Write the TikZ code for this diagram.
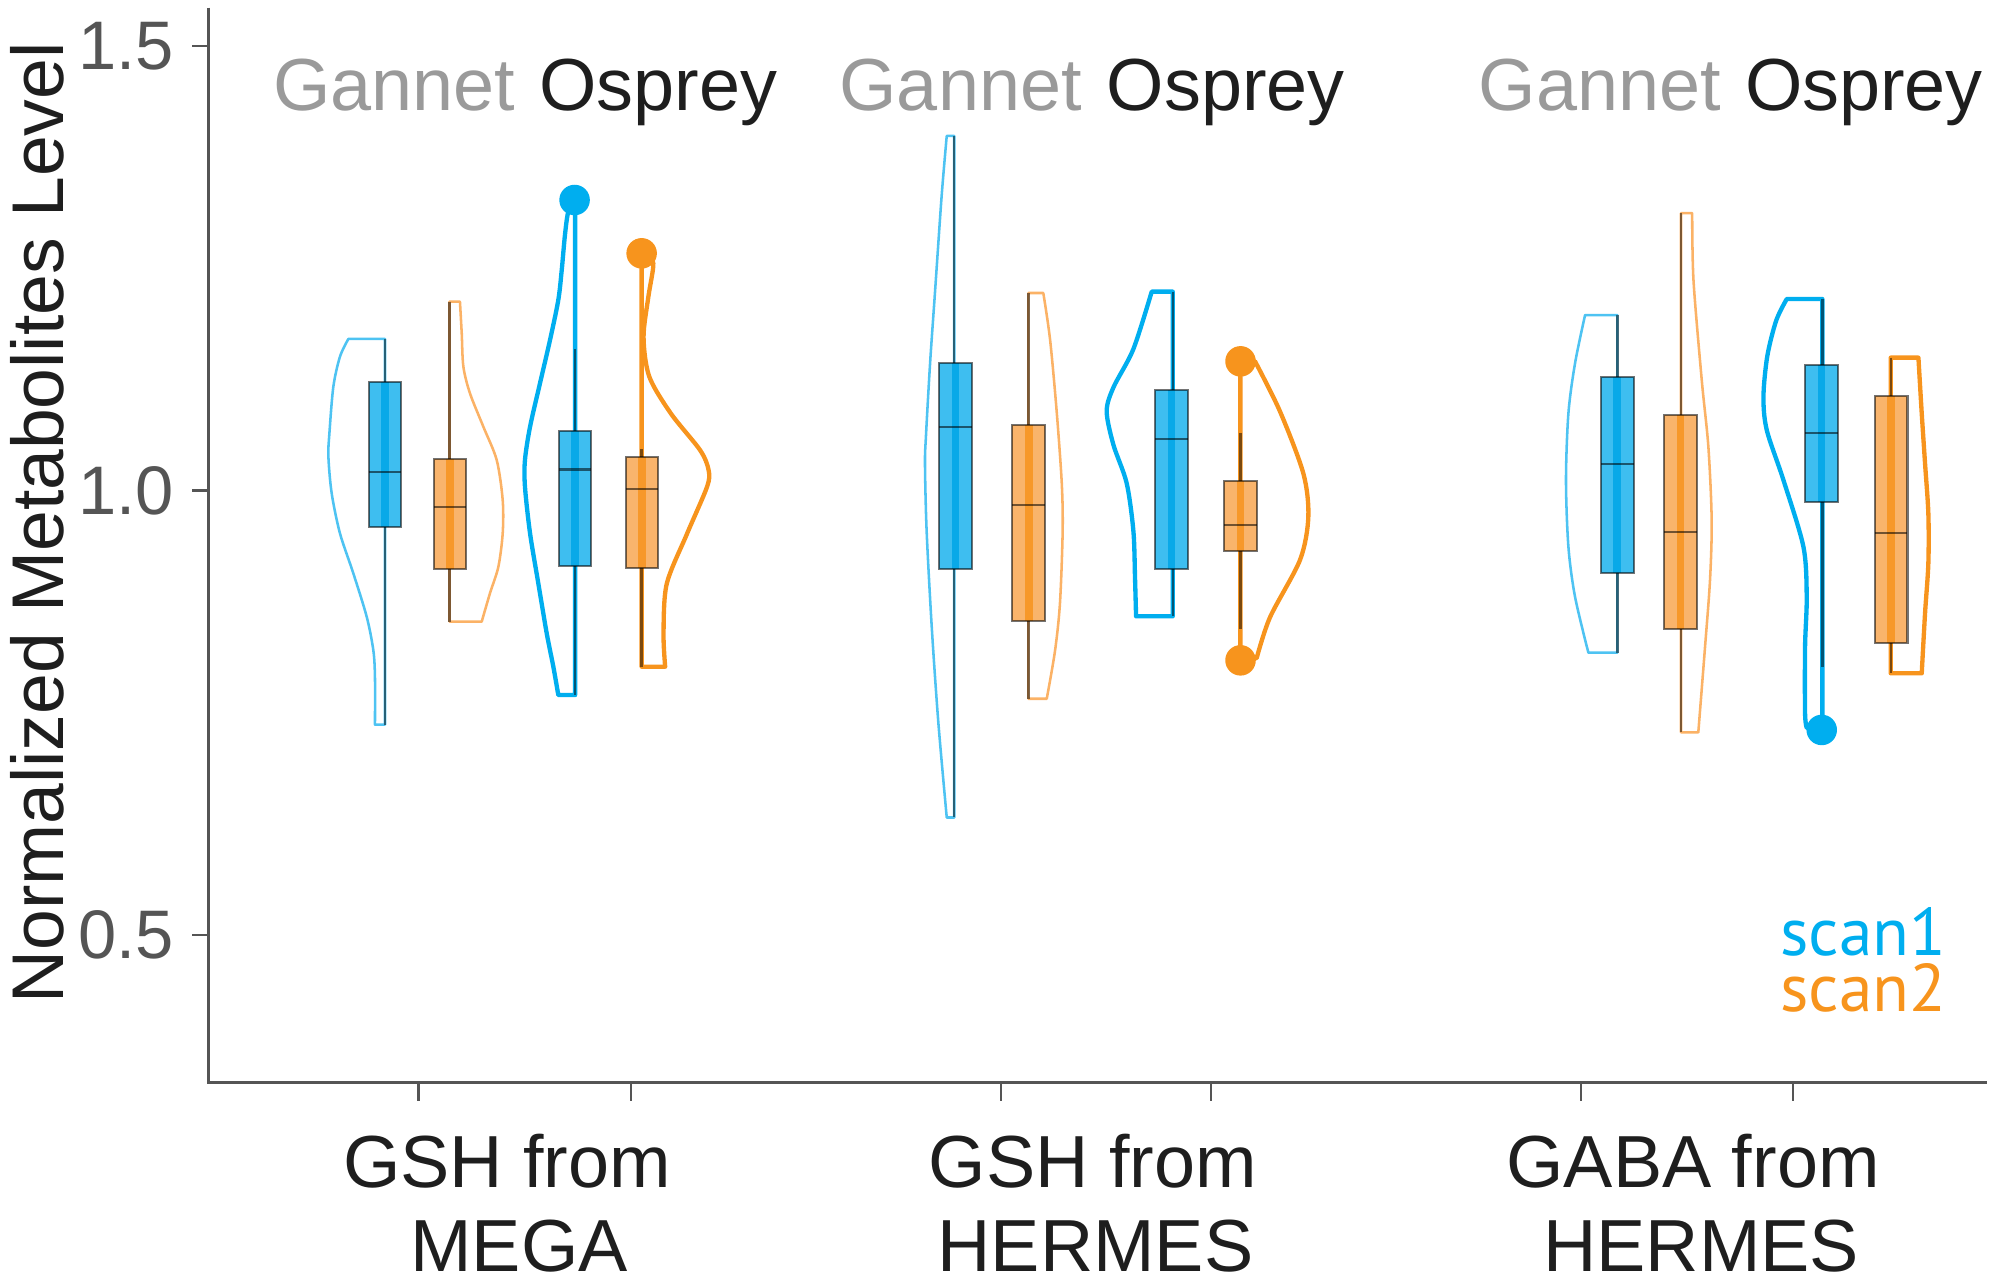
\documentclass[tikz,border=0pt]{standalone}
\usepackage{fontspec}
\setmainfont{Liberation Sans}
\newfontfamily\scanfont{PT Sans}
\definecolor{bG}{HTML}{4EC3F2}
\definecolor{oG}{HTML}{FBB266}
\definecolor{bO}{HTML}{00AEEF}
\definecolor{oO}{HTML}{F7941D}
\definecolor{bfill}{HTML}{3EBEF0}
\definecolor{bstripe}{HTML}{09A9E8}
\definecolor{ofill}{HTML}{F9B46C}
\definecolor{ostripe}{HTML}{F7982A}
\definecolor{axisgray}{HTML}{555555}
\definecolor{gannetgray}{HTML}{9A9A9A}
\definecolor{txtdark}{HTML}{1E1E1E}
\newcommand{\bxplot}[6]{%
  \fill[#5] ({#1-12.8},#2) rectangle ({#1+12.8},#3);
  \fill[#6] ({#1-3},#2) rectangle ({#1+3},#3);
  \draw[boxedge] ({#1-12.8},#2) rectangle ({#1+12.8},#3);
  \draw[boxedge] ({#1-12.8},#4) -- ({#1+12.8},#4);
}
\newcommand{\whisk}[3]{\draw[whiskline] (#1,#2) -- (#1,#3);}
\begin{document}
\begin{tikzpicture}[x=0.5pt,y=-0.5pt,
  vG/.style={line width=1pt,line join=round},
  vO/.style={line width=1.7pt,line join=round},
  whiskline/.style={draw=black,draw opacity=0.5,line width=0.9pt},
  boxedge/.style={draw=black,draw opacity=0.55,line width=0.8pt},
  axisline/.style={draw=axisgray,line width=1.3pt},
  tickline/.style={draw=axisgray,line width=0.9pt},
  ticklab/.style={text=axisgray,font=\fontsize{27pt}{32pt}\selectfont,inner sep=0pt,anchor=east},
  catlab/.style={text=txtdark,font=\fontsize{29pt}{34pt}\selectfont,inner sep=0pt,anchor=base},
  toollab/.style={font=\fontsize{29pt}{34pt}\selectfont,inner sep=0pt,anchor=base},
  scanlab/.style={font=\scanfont\fontsize{26.5pt}{22pt}\selectfont,inner sep=0pt,align=left},
  dot/.style={fill=#1}
]
\useasboundingbox (0,0) rectangle (1568,1012);

% axes
\draw[axisline] (164,6) -- (164,851) -- (1562,851);
\foreach \yy in {36,385.5,735} \draw[tickline] (151,\yy) -- (164,\yy);
\foreach \xx in {329,496,786.5,952,1242.5,1409} \draw[tickline] (\xx,851) -- (\xx,865);
\node[ticklab] (t15) at (137,36) {1.5};
\node[ticklab] (t10) at (137,385.5) {1.0};
\node[ticklab] (t05) at (137,735) {0.5};
\node[rotate=90,anchor=base,inner sep=0pt,text=txtdark,font=\fontsize{28.8pt}{34pt}\selectfont] (ylab) at (50,411) {Normalized Metabolites Level};

% category labels
\node[catlab] (c1a) at (398.5,933) {GSH from};
\node[catlab] (c1b) at (408,999) {MEGA};
\node[catlab] (c2a) at (859,933) {GSH from};
\node[catlab] (c2b) at (861,999) {HERMES};
\node[catlab] (c3a) at (1330.6,933) {GABA from};
\node[catlab] (c3b) at (1337,999) {HERMES};

% tool labels
\node[toollab,text=gannetgray] (g1) at (310,87) {Gannet};
\node[toollab,text=txtdark] (o1) at (517.5,87) {Osprey};
\node[toollab,text=gannetgray] (g2) at (755,87) {Gannet};
\node[toollab,text=txtdark] (o2) at (963.5,87) {Osprey};
\node[toollab,text=gannetgray] (g3) at (1257.5,87) {Gannet};
\node[toollab,text=txtdark] (o3) at (1465,87) {Osprey};

% legend
\node[scanlab,anchor=base west] (leg) at (1399,795) {\textcolor{bO}{scan1}\\\textcolor{oO}{scan2}};

% ---------- violins ----------
% group 1
\draw[vG,bG] (302.6,266.4) -- plot[smooth] coordinates {(273.8,266.4) (267.2,280.3) (262,303.9) (258.9,340.6) (258.1,358.9) (260.7,387.8) (267.2,419.2) (277.7,450.6) (288.2,484.7) (293.4,510.9) (294.7,531.9) (294.7,569.5)} -- (302.6,569.5) -- cycle;
\draw[vG,oG] (353.3,237.1) -- plot[smooth] coordinates {(361.5,237.1) (362.9,262) (364.2,288.2) (369.4,309.2) (379.9,335.4) (390.4,361.6) (395.1,393) (395.1,419.2) (391.7,445.4) (385.1,466.3) (378.6,488.6)} -- (353.3,488.6) -- cycle;
\draw[vO,bO] (452,160) -- (452,546.3) -- plot[smooth] coordinates {(438.8,546.3) (434.9,524) (429.7,497.8) (423.1,458.5) (416.6,419.2) (412.6,382.5) (412.6,361.5) (416.6,335.4) (424.4,301.3) (432.3,267.2) (438.8,235.8) (441.5,212.2) (444,185) (446.5,167) (451,158)} -- cycle;
\draw[vO,oO] (504.3,199) -- (504.3,524) -- plot[smooth] coordinates {(522.8,524) (521.5,498) (524,459) (539.9,419.7) (555.6,382.9) (557,369.8) (550.4,354) (527.3,325) (510.3,296) (505.8,265) (509.6,233.2) (513.5,207.1) (508,198)} -- cycle;
% group 2
\draw[vG,bG] (750,106.8) -- plot[smooth] coordinates {(744.1,106.8) (740.1,153.9) (734.9,229.2) (731,285.6) (727.8,342.1) (727,364.7) (728.3,417.4) (732.3,492.6) (737.5,567.9) (744.1,642.5)} -- (750,642.5) -- cycle;
\draw[vG,oG] (808.3,230.3) -- plot[smooth] coordinates {(820,230.3) (825.3,266.8) (830.5,323.3) (834.5,379.7) (835.2,417.4) (833.1,473.9) (829.2,511.5) (822.7,549.2)} -- (808.3,549.2) -- cycle;
\draw[vO,bO] (921.7,229.2) -- (921.7,484.4) -- plot[smooth] coordinates {(892.9,484.4) (892.1,455) (890.8,417.4) (885.5,379.7) (875.1,349.6) (869.8,323.3) (875.1,304.5) (890.8,274.3) (905.2,229.2)} -- cycle;
\draw[vO,oO] (974.9,284) -- (974.9,519) -- plot[smooth] coordinates {(987.7,517.2) (998.2,485.1) (1021.8,440) (1028.3,406.1) (1024.4,372.2) (1006,323.3) (986.4,284)} -- cycle;
% group 3
\draw[vG,bG] (1271.2,247.6) -- plot[smooth] coordinates {(1245.8,247.6) (1237.9,285.6) (1232.7,324.9) (1230.8,377.3) (1232.7,429.7) (1237.9,469) (1248.4,513)} -- (1271.2,513) -- cycle;
\draw[vG,oG] (1321.2,167.5) -- plot[smooth] coordinates {(1330,167.5) (1331,220) (1337.5,298.7) (1342.7,351.1) (1345.3,408.7) (1344,455.9) (1340.1,508.3) (1334.8,575.6)} -- (1321.2,575.6) -- cycle;
\draw[vO,bO] (1432.3,235) -- (1432.3,573) -- plot[smooth] coordinates {(1420,572) (1418.7,560.6) (1418.7,508.3) (1420,469) (1417.4,429.7) (1401.7,377.3) (1388.6,338) (1386,311.8) (1389,280) (1396,252) (1404.3,235)} -- cycle;
\draw[vO,oO] (1486,281.1) -- plot[smooth] coordinates {(1507.8,281.1) (1510.4,324.9) (1513,364.2) (1515.6,403.5) (1515.6,442.8) (1513,482.1) (1510.4,529.2)} -- (1486,529.2) -- cycle;

% ---------- whiskers ----------
\whisk{302.6}{266.4}{569.5}
\whisk{353.3}{237.1}{488.6}
\whisk{452}{274.4}{546.3}
\whisk{504.3}{353}{524}
\whisk{750}{106.8}{642.5}
\whisk{808.3}{230.3}{549.2}
\whisk{921.7}{229.2}{484.4}
\whisk{974.9}{340.3}{494.5}
\whisk{1271.2}{247.6}{513}
\whisk{1321.2}{167.5}{575.6}
\whisk{1432.3}{235}{524}
\whisk{1486}{281.1}{529.2}

% ---------- boxes ----------
\bxplot{302.6}{300}{414}{371}{bfill}{bstripe}
\bxplot{353.8}{361}{447.5}{398.7}{ofill}{ostripe}
\bxplot{452}{338.7}{445}{369}{bfill}{bstripe}
\bxplot{504.6}{359}{446.7}{384.4}{ofill}{ostripe}
\bxplot{751}{285.6}{447.5}{335.7}{bfill}{bstripe}
\bxplot{808.5}{333.8}{487.8}{396.7}{ofill}{ostripe}
\bxplot{920.8}{306.4}{447.5}{345}{bfill}{bstripe}
\bxplot{974.9}{377.8}{433.2}{412.9}{ofill}{ostripe}
\bxplot{1271.1}{296.6}{450.6}{365}{bfill}{bstripe}
\bxplot{1320.8}{326.2}{494.4}{417.9}{ofill}{ostripe}
\bxplot{1431.6}{286.9}{394.3}{340.6}{bfill}{bstripe}
\bxplot{1486.4}{311}{505.7}{418.7}{ofill}{ostripe}

% ---------- outliers ----------
\fill[dot=bO] (451.6,157.2) circle[radius=12];
\fill[dot=oO] (504.3,199.1) circle[radius=12];
\fill[dot=oO] (975,284) circle[radius=12];
\fill[dot=oO] (975,519) circle[radius=12];
\fill[dot=bO] (1431.8,573.7) circle[radius=12];
\end{tikzpicture}
\end{document}
